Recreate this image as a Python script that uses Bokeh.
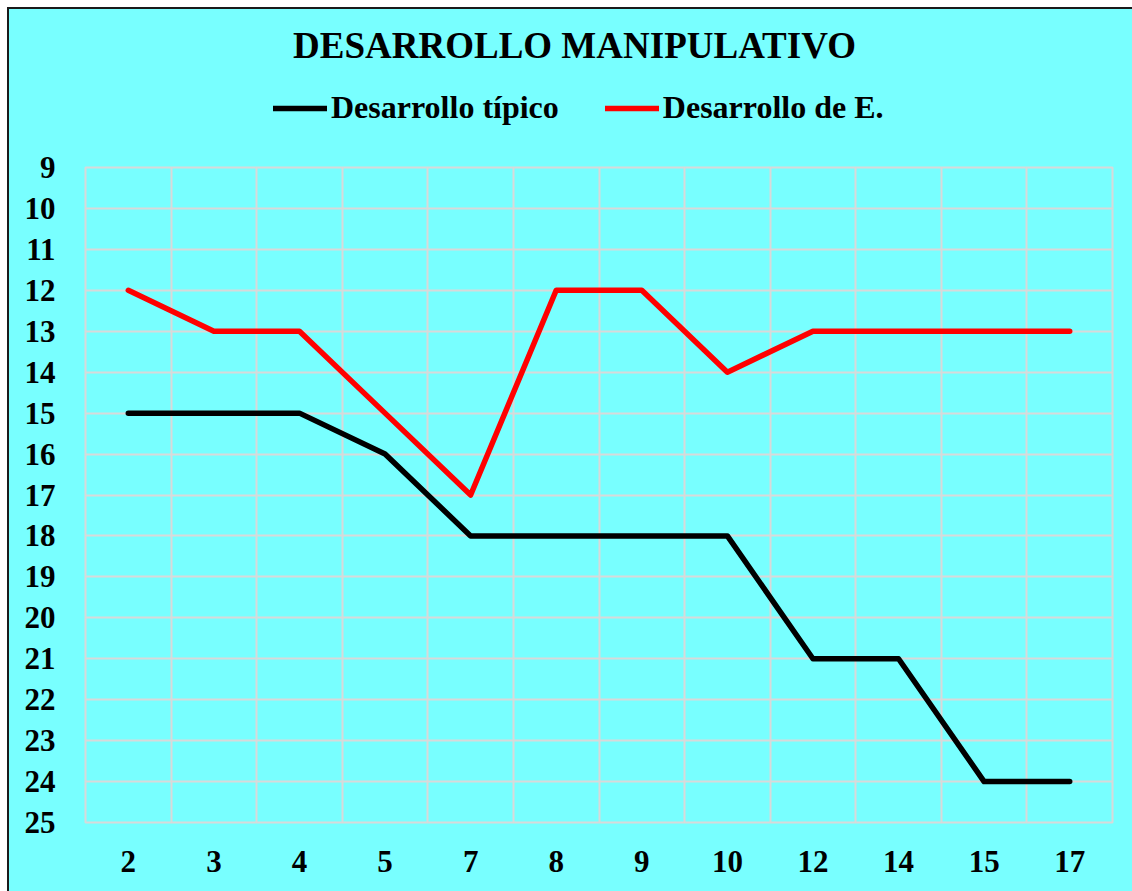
from bokeh.plotting import figure
from bokeh.layouts import column
from bokeh.models import FactorRange, Range1d, FixedTicker, Legend, LegendItem, ColumnDataSource, Label
from bokeh.embed import file_html
from bokeh.resources import INLINE

ages = ["2", "3", "4", "5", "7", "8", "9", "10", "12", "14", "15", "17"]
tipico = [15, 15, 15, 16, 18, 18, 18, 18, 21, 21, 24, 24]
desarrollo_e = [12, 13, 13, 15, 17, 12, 12, 14, 13, 13, 13, 13]
y_ticks = list(range(9, 26))
title_text = "DESARROLLO MANIPULATIVO"
series_names = ["Desarrollo típico", "Desarrollo de E."]
series_colors = ["black", "#FF0000"]

BG = "#78FFFF"
GRID = "#D9D9D9"
FONT = "Liberation Serif"
LW = 5.5
W = 1123
HEAD_H = 140

# ---- header (title + legend); its frame is aligned with the chart frame below ----
head = figure(width=W, height=HEAD_H, x_range=Range1d(0, 1), y_range=Range1d(0, 1),
              output_backend="svg", toolbar_location=None,
              x_axis_location=None, y_axis_location=None,
              background_fill_color=None, border_fill_color=BG, min_border=0)
head.outline_line_color = None
head.grid.visible = False

proxy = ColumnDataSource(dict(x=[float("nan")], y=[float("nan")]))
hr = [head.line("x", "y", source=proxy, line_color=c, line_width=LW, line_cap="round")
      for c in series_colors]

head.add_layout(Label(x=489, y=104, x_units="screen", y_units="screen", text=title_text,
                      text_align="center", text_baseline="middle", text_font=FONT,
                      text_font_style="bold", text_font_size="37px", text_color="black"))

legend = Legend(items=[LegendItem(label=n, renderers=[r]) for n, r in zip(series_names, hr)],
                orientation="horizontal", location=(188, 23),
                label_text_font=FONT, label_text_font_style="bold", label_text_font_size="32px",
                label_text_color="black", glyph_width=54, glyph_height=20,
                label_standoff=4, spacing=46, padding=0, margin=0,
                border_line_color=None, background_fill_alpha=0)
head.add_layout(legend, "center")

# ---- main chart ----
src = ColumnDataSource(dict(x=ages, t=tipico, e=desarrollo_e))

p = figure(width=W, height=882 - HEAD_H, x_range=FactorRange(*ages), y_range=Range1d(25, 9),
           output_backend="svg", toolbar_location=None,
           background_fill_color=BG, border_fill_color=BG,
           min_border_left=76, min_border_right=20, min_border_bottom=69, min_border_top=18)

p.line("x", "t", source=src, line_color=series_colors[0], line_width=LW, line_cap="round", line_join="round")
p.line("x", "e", source=src, line_color=series_colors[1], line_width=LW, line_cap="round", line_join="round")

p.outline_line_color = GRID
p.outline_line_width = 2

p.xgrid.ticker = FixedTicker(ticks=list(range(13)))
p.xgrid.grid_line_color = GRID
p.xgrid.grid_line_width = 2
p.ygrid.grid_line_color = GRID
p.ygrid.grid_line_width = 2

p.yaxis.ticker = FixedTicker(ticks=y_ticks)
for ax in (p.xaxis[0], p.yaxis[0]):
    ax.axis_line_color = None
    ax.major_tick_line_color = None
    ax.minor_tick_line_color = None
    ax.major_label_text_font = FONT
    ax.major_label_text_font_style = "bold"
    ax.major_label_text_font_size = "31px"
    ax.major_label_text_color = "black"
p.yaxis.major_label_standoff = 24
p.xaxis.major_label_standoff = 22

layout = column(head, p, spacing=0,
                styles={"margin-left": "7px", "margin-top": "7px", "background-color": BG,
                        "border-top": "2px solid #1a1a1a", "border-left": "2px solid #1a1a1a"})

open("out.html", "w").write(file_html(layout, INLINE))
